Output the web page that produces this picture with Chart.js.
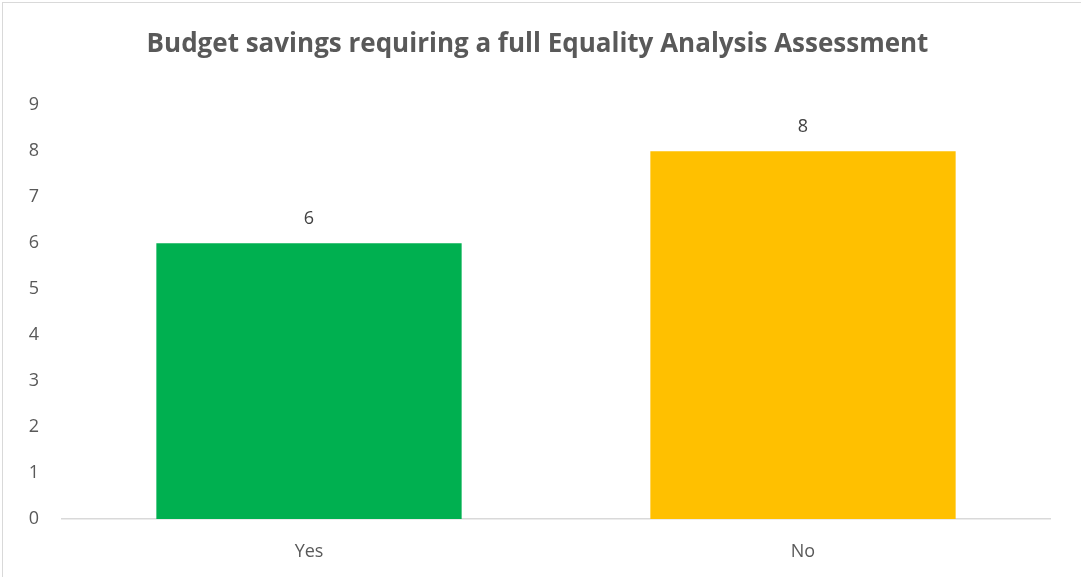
<!DOCTYPE html>
<html>
<head>
<meta charset="utf-8">
<script src="https://cdn.jsdelivr.net/npm/chart.js@4/dist/chart.umd.min.js"></script>
<style>
    html, body { margin: 0; padding: 0; background: #fff; }
    .wrap { position: relative; width: 1081px; height: 577px; }
    .frame { position: absolute; left: 2px; top: 2px; width: 1081px; height: 590px; border: 1px solid #d9d9d9; box-sizing: border-box; pointer-events: none; }
    canvas { position: absolute; left: 0; top: 0; }
</style>
</head>
<body>
<div class="wrap">
    <canvas id="chart" width="1081" height="577"></canvas>
    <div class="frame"></div>
</div>
<script>
/* ── Data ── */
const TITLE      = 'Budget savings requiring a full Equality Analysis Assessment';
const categories = ['Yes', 'No'];
const values     = [6, 8];
const barColors  = ['#00B050', '#FFC000'];
const yTicks     = [0, 1, 2, 3, 4, 5, 6, 7, 8, 9];

const FONT = '"Open Sans", "DejaVu Sans", sans-serif';
const GREY = '#595959';

// Value labels above each bar (no datalabels plugin available)
const barValueLabels = {
    id: 'barValueLabels',
    afterDatasetsDraw(chart) {
        const ctx  = chart.ctx;
        const meta = chart.getDatasetMeta(0);
        ctx.save();
        ctx.font         = '18px ' + FONT;
        ctx.fillStyle    = '#404040';
        ctx.textAlign    = 'center';
        ctx.textBaseline = 'middle';
        meta.data.forEach((bar, i) => {
            ctx.fillText(String(values[i]), bar.x, bar.y - 24);
        });
        ctx.restore();
    },
};

new Chart(document.getElementById('chart').getContext('2d'), {
    type: 'bar',
    data: {
        labels: categories,
        datasets: [{
            data:               values,
            backgroundColor:    barColors,
            borderWidth:        0,
            categoryPercentage: 1,
            barPercentage:      0.618,
        }],
    },
    options: {
        responsive: false,
        animation:  false,
        layout: { padding: { left: 25, right: 31, top: 0, bottom: 18 } },
        scales: {
            x: {
                afterFit: s => { s.height = 40; },
                grid:   { display: false, drawTicks: false },
                border: { display: true, color: '#d9d9d9', width: 1.5 },
                ticks:  { color: GREY, padding: 22, font: { family: FONT, size: 18 } },
            },
            y: {
                min: 0,
                max: 9,
                afterFit: s => { s.width = 37; },
                afterBuildTicks: s => { s.ticks = yTicks.map(v => ({ value: v })); },
                grid:   { display: false, drawTicks: false },
                border: { display: false },
                ticks:  { color: GREY, padding: 23, font: { family: FONT, size: 18 } },
            },
        },
        plugins: {
            legend:  { display: false },
            tooltip: { enabled: false },
            title: {
                display: true,
                text:    TITLE,
                color:   GREY,
                font:    { family: FONT, size: 26, weight: 'bold' },
                padding: { top: 29, bottom: 45 },
            },
        },
    },
    plugins: [barValueLabels],
});
</script>
</body>
</html>
